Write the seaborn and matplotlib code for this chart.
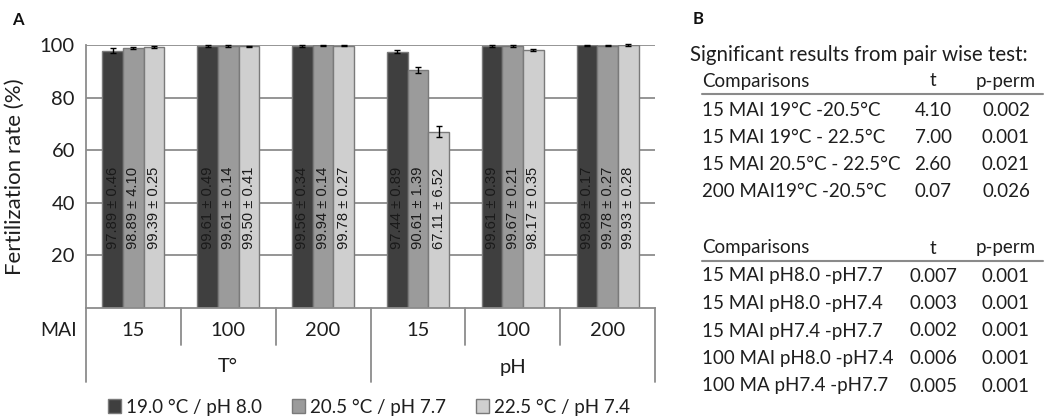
import numpy as np
import pandas as pd
import matplotlib
matplotlib.use("Agg")
import matplotlib.pyplot as plt
import seaborn as sns
from matplotlib.lines import Line2D
from matplotlib.container import BarContainer
from matplotlib.transforms import blended_transform_factory

# ---------------- data ----------------
groups = ["T 15", "T 100", "T 200", "pH 15", "pH 100", "pH 200"]
mai_labels = ["15", "100", "200", "15", "100", "200"]
factor_labels = ["T°", "pH"]
conditions = ["19.0 °C / pH 8.0", "20.5 °C / pH 7.7", "22.5 °C / pH 7.4"]

means_c1 = [97.89, 99.61, 99.56, 97.44, 99.61, 99.89]
means_c2 = [98.89, 99.61, 99.94, 90.61, 99.67, 99.78]
means_c3 = [99.39, 99.50, 99.78, 67.11, 98.17, 99.93]
sd_c1 = [0.46, 0.49, 0.34, 0.89, 0.39, 0.17]
sd_c2 = [4.10, 0.14, 0.14, 1.39, 0.21, 0.27]
sd_c3 = [0.25, 0.41, 0.27, 6.52, 0.35, 0.28]
# error bar half-lengths as drawn
err_c1 = [0.8, 0.4, 0.4, 0.6, 0.4, 0.3]
err_c2 = [0.3, 0.3, 0.2, 1.1, 0.3, 0.3]
err_c3 = [0.4, 0.3, 0.2, 2.1, 0.4, 0.3]

yticks = [20, 40, 60, 80, 100]

tab1_comp = ["15 MAI 19°C -20.5°C", "15 MAI 19°C - 22.5°C",
             "15 MAI 20.5°C - 22.5°C", "200 MAI19°C -20.5°C"]
tab1_t = ["4.10", "7.00", "2.60", "0.07"]
tab1_p = ["0.002", "0.001", "0.021", "0.026"]
tab2_comp = ["15 MAI pH8.0 -pH7.7", "15 MAI pH8.0 -pH7.4",
             "15 MAI pH7.4 -pH7.7", "100 MAI pH8.0 -pH7.4",
             "100 MA pH7.4 -pH7.7"]
tab2_t = ["0.007", "0.003", "0.002", "0.006", "0.005"]
tab2_p = ["0.001", "0.001", "0.001", "0.001", "0.001"]

means = [means_c1, means_c2, means_c3]
sds = [sd_c1, sd_c2, sd_c3]
errs = [err_c1, err_c2, err_c3]

rows = []
for ci, cond in enumerate(conditions):
    for gi, g in enumerate(groups):
        rows.append({"group": g, "cond": cond, "value": means[ci][gi]})
df = pd.DataFrame(rows)

# ---------------- style ----------------
sns.set_style("white")
plt.rcParams['font.family'] = ['Lato', 'DejaVu Sans']

W, H = 1045, 417
fig = plt.figure(figsize=(W / 100, H / 100), dpi=100)

def fx(px):
    return px / W

def fy(py):
    return 1 - py / H

ax_l, ax_r, ax_t, ax_b = 86, 655, 45, 308
ax = fig.add_axes([fx(ax_l), fy(ax_b), fx(ax_r) - fx(ax_l), (ax_b - ax_t) / H])
ax_h = ax_b - ax_t

txt_col = "#1e1e1e"
grid_col = "#8c8c8c"
palette = ["#3f3f3f", "#9b9b9b", "#cfcfcf"]

sns.barplot(data=df, x="group", y="value", hue="cond", order=groups,
            hue_order=conditions, palette=palette, edgecolor="#7a7a7a",
            linewidth=1.0, width=0.655, errorbar=None, ax=ax, zorder=2)

ax.set_xlim(-0.5, len(groups) - 0.5)
ax.set_ylim(0, 100)
ax.set_yticks(yticks)
ax.set_yticklabels([str(v) for v in yticks], fontsize=14.5, color=txt_col)
ax.tick_params(axis="y", length=5, width=1.2, color=grid_col, pad=3)
ax.tick_params(axis="x", length=0, labelbottom=False)
ax.set_xlabel("")
ax.set_ylabel("Fertilization rate (%)", fontsize=16, color=txt_col)
ax.yaxis.set_label_coords(-(ax_l - 25) / (ax_r - ax_l), 0.5)
ax.yaxis.grid(True, color=grid_col, lw=1.3)
ax.set_axisbelow(True)
for s in ["top", "right"]:
    ax.spines[s].set_visible(False)
for s in ["left", "bottom"]:
    ax.spines[s].set_color(grid_col)
    ax.spines[s].set_linewidth(1.3)

# error bars and value labels
bar_conts = [c for c in ax.containers if isinstance(c, BarContainer)]
for ci, cont in enumerate(bar_conts):
    for gi, bar in enumerate(cont.patches):
        xc = bar.get_x() + bar.get_width() / 2
        h = bar.get_height()
        ax.errorbar(xc, h, yerr=errs[ci][gi], color="black", lw=1.0,
                    capsize=2, capthick=1.0, zorder=4, clip_on=False)
        ax.text(xc, 38, f"{means[ci][gi]:.2f} ± {sds[ci][gi]:.2f}",
                rotation=90, ha="center", va="center", fontsize=10.6,
                family=["Liberation Sans", "DejaVu Sans"], color="#1a1a1a",
                zorder=5)

# category table under the axis
tr = blended_transform_factory(ax.transData, ax.transAxes)
y_row1 = -(330 - ax_b) / ax_h
y_row2 = -(367 - ax_b) / ax_h
y_short = -(345 - ax_b) / ax_h
y_long = -(382 - ax_b) / ax_h
for gi, lab in enumerate(mai_labels):
    ax.text(gi, y_row1, lab, transform=tr, ha="center", va="center",
            fontsize=14.5, color=txt_col)
for k, lab in enumerate(factor_labels):
    ax.text(1 + 3 * k, y_row2, lab, transform=tr, ha="center", va="center",
            fontsize=14.5, color=txt_col)
ax.text(-(ax_l - 77) / (ax_r - ax_l), y_row1, "MAI", transform=ax.transAxes,
        ha="right", va="center", fontsize=14, color=txt_col)
for xb in [0.5, 1.5, 3.5, 4.5]:
    ax.add_line(Line2D([xb, xb], [0, y_short], transform=tr, color=grid_col,
                       lw=1.3, clip_on=False))
for xb in [-0.5, 2.5, 5.5]:
    ax.add_line(Line2D([xb, xb], [0, y_long], transform=tr, color=grid_col,
                       lw=1.3, clip_on=False))

# legend
sns.move_legend(ax, "center", bbox_to_anchor=(0.497, -(407 - ax_b) / ax_h),
                ncol=3, frameon=False, title=None, fontsize=13.5,
                handlelength=0.7, handleheight=0.7, handletextpad=0.25,
                columnspacing=1.6, borderaxespad=0)
for t in ax.get_legend().get_texts():
    t.set_color(txt_col)

# panel labels
fig.text(fx(12), fy(20), "A", fontsize=12, fontweight="bold", va="center",
         color="#111111")
fig.text(fx(693), fy(19), "B", fontsize=12, fontweight="bold", va="center",
         color="#111111")

# panel B tables
fs_tab = 13.5
fig.text(fx(690), fy(55), "Significant results from pair wise test:",
         fontsize=14.8, va="center", ha="left", color=txt_col)

x_comp, x_t, x_p = 702, 933, 1006

def draw_table(y_head, y_line, y_first, step, comps, ts, ps):
    fig.text(fx(x_comp), fy(y_head), "Comparisons", fontsize=fs_tab,
             va="center", ha="left", color=txt_col)
    fig.text(fx(x_t), fy(y_head), "t", fontsize=fs_tab, va="center",
             ha="center", color=txt_col)
    fig.text(fx(x_p), fy(y_head), "p-perm", fontsize=fs_tab, va="center",
             ha="center", color=txt_col)
    fig.add_artist(Line2D([fx(x_comp), fx(1043)], [fy(y_line), fy(y_line)],
                          transform=fig.transFigure, color="#8a8a8a", lw=1.5))
    for i, (c, t, p) in enumerate(zip(comps, ts, ps)):
        yy = fy(y_first + i * step)
        fig.text(fx(x_comp), yy, c, fontsize=fs_tab, va="center", ha="left",
                 color=txt_col)
        fig.text(fx(x_t), yy, t, fontsize=fs_tab, va="center", ha="center",
                 color=txt_col)
        fig.text(fx(x_p), yy, p, fontsize=fs_tab, va="center", ha="center",
                 color=txt_col)

draw_table(81, 94, 111, 26.8, tab1_comp, tab1_t, tab1_p)
draw_table(248, 261, 276, 27.5, tab2_comp, tab2_t, tab2_p)

fig.savefig("out.png", dpi=100, facecolor="white")
